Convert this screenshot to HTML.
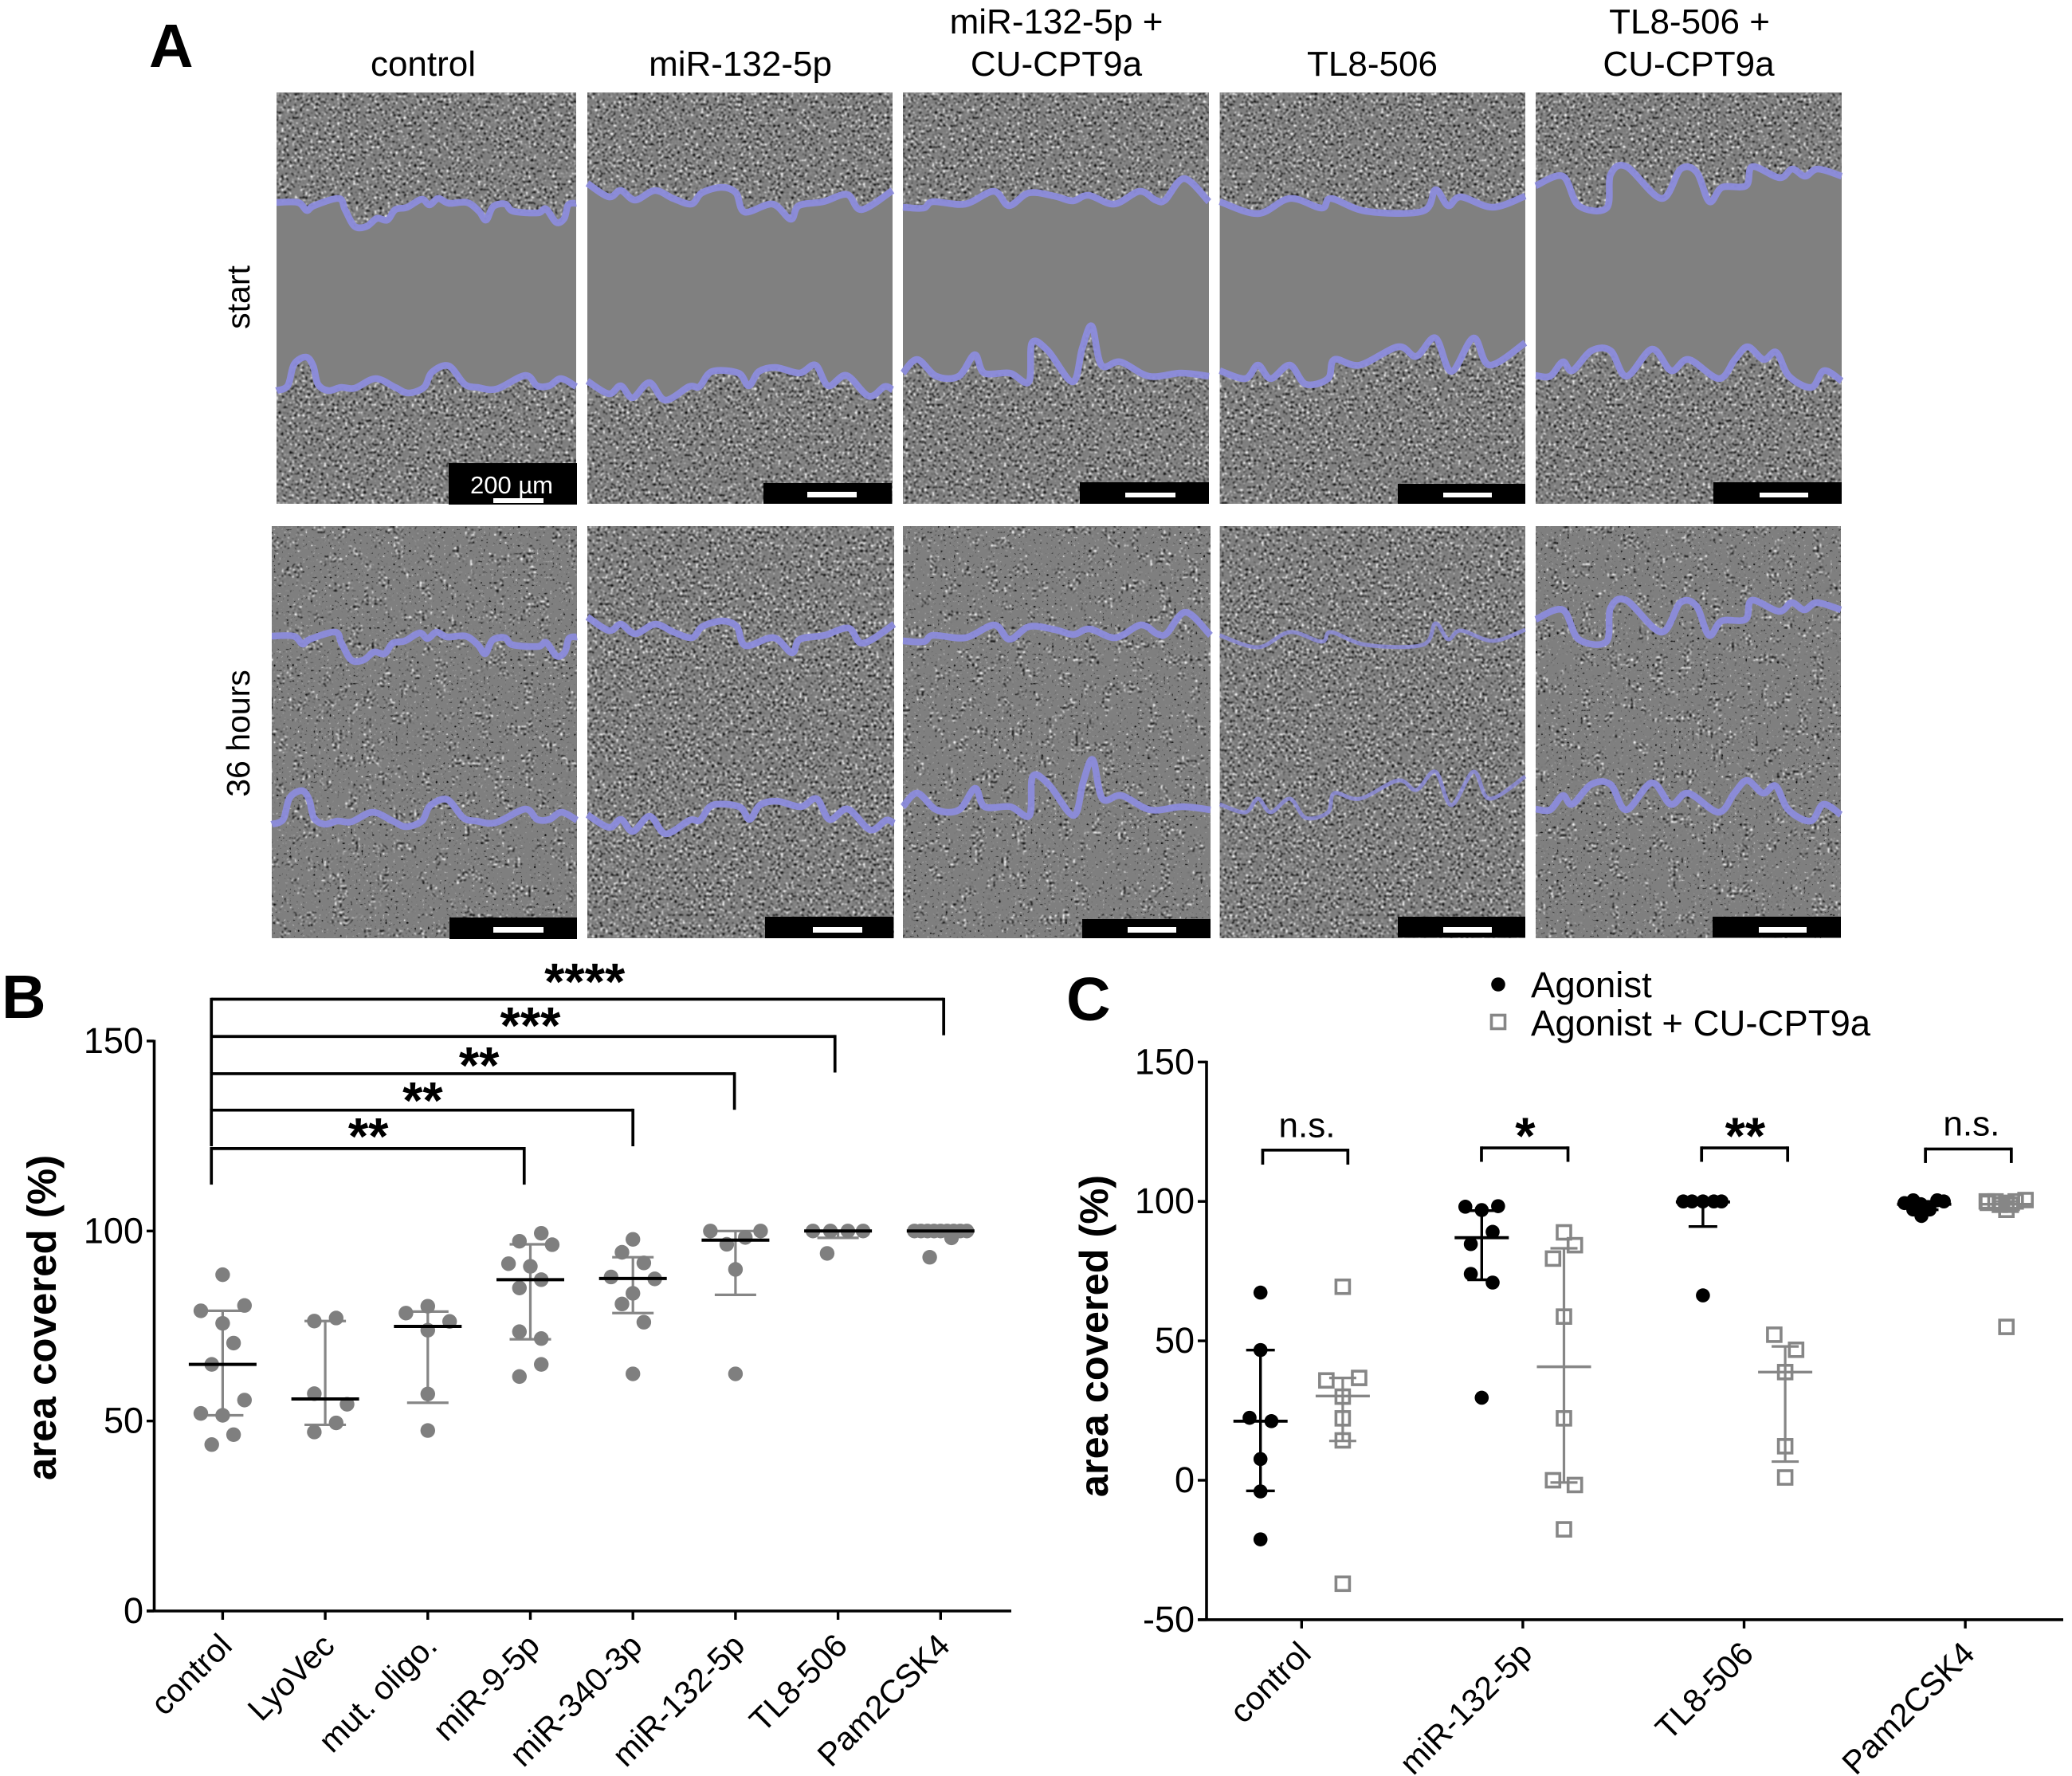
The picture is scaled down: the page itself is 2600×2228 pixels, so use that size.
<!DOCTYPE html>
<html lang="en">
<head>
<meta charset="utf-8">
<title>Wound healing assay figure</title>
<style>
html,body{margin:0;padding:0;background:#fff;}
svg{display:block;}
text{font-family:"Liberation Sans",sans-serif;fill:#000;}
</style>
</head>
<body>
<svg id="figure" xmlns="http://www.w3.org/2000/svg" width="2600" height="2228" viewBox="0 0 2600 2228">
  <defs>
    <filter id="dense" x="0" y="0" width="1" height="1" color-interpolation-filters="sRGB">
      <feTurbulence type="fractalNoise" baseFrequency="0.3" numOctaves="1" seed="7" result="n"/>
      <feColorMatrix in="n" type="matrix" values="1 0 0 0 0 1 0 0 0 0 1 0 0 0 0 0 0 0 0 1" result="g"/>
      <feComponentTransfer in="g" result="t0">
        <feFuncR type="table" tableValues="0 0 0 0 0.05 0.2 0.45 0.5 0.5 0.54 0.75 1 1 1 1 1"/>
        <feFuncG type="table" tableValues="0 0 0 0 0.05 0.2 0.45 0.5 0.5 0.54 0.75 1 1 1 1 1"/>
        <feFuncB type="table" tableValues="0 0 0 0 0.05 0.2 0.45 0.5 0.5 0.54 0.75 1 1 1 1 1"/>
      </feComponentTransfer>
      <feGaussianBlur in="t0" stdDeviation="0.7" result="t"/>
      <feComposite in="t" in2="SourceGraphic" operator="in"/>
    </filter>
    <filter id="sparse" x="0" y="0" width="1" height="1" color-interpolation-filters="sRGB">
      <feTurbulence type="fractalNoise" baseFrequency="0.3" numOctaves="1" seed="11" result="n"/>
      <feColorMatrix in="n" type="matrix" values="1 0 0 0 0 1 0 0 0 0 1 0 0 0 0 0 0 0 0 1" result="g"/>
      <feComponentTransfer in="g" result="t0">
        <feFuncR type="table" tableValues="0 0 0 0 0.05 0.2 0.45 0.5 0.5 0.54 0.75 1 1 1 1 1"/>
        <feFuncG type="table" tableValues="0 0 0 0 0.05 0.2 0.45 0.5 0.5 0.54 0.75 1 1 1 1 1"/>
        <feFuncB type="table" tableValues="0 0 0 0 0.05 0.2 0.45 0.5 0.5 0.54 0.75 1 1 1 1 1"/>
      </feComponentTransfer>
      <feGaussianBlur in="t0" stdDeviation="0.7" result="t"/>
      <feComponentTransfer in="g" result="t2">
        <feFuncR type="table" tableValues="0 0 0 0.05 0.22 0.5 0.5 0.5 0.5 0.5 0.5 0.62 0.8 1 1 1"/>
        <feFuncG type="table" tableValues="0 0 0 0.05 0.22 0.5 0.5 0.5 0.5 0.5 0.5 0.62 0.8 1 1 1"/>
        <feFuncB type="table" tableValues="0 0 0 0.05 0.22 0.5 0.5 0.5 0.5 0.5 0.5 0.62 0.8 1 1 1"/>
      </feComponentTransfer>
      <feTurbulence type="fractalNoise" baseFrequency="0.055" numOctaves="1" seed="4" result="lf"/>
      <feColorMatrix in="lf" type="matrix" values="0 0 0 0 0 0 0 0 0 0 0 0 0 0 0 1 0 0 0 0" result="la"/>
      <feComponentTransfer in="la" result="mask">
        <feFuncA type="table" tableValues="0 0 0 0 0 0 0 0 0 1 1 1 1 1 1 1"/>
      </feComponentTransfer>
      <feComposite in="t" in2="mask" operator="in" result="blobs"/>
      <feMerge result="merged">
        <feMergeNode in="t2"/>
        <feMergeNode in="blobs"/>
      </feMerge>
      <feComposite in="merged" in2="SourceGraphic" operator="in"/>
    </filter>
  </defs>
  <g id="panel-a"></g>
  <g id="panel-b"></g>
  <g id="panel-c"></g>
</svg>
<script>
/* ---------- Panel B data ---------- */
const bCategories = ['control','LyoVec','mut. oligo.','miR-9-5p','miR-340-3p','miR-132-5p','TL8-506','Pam2CSK4'];
const bYTicks = [0,50,100,150];
const bControl = [88.5,79,80.4,75.7,70.5,64.9,55.5,52,51.5,46.4,43.8];
const bControlSwarm = [0,-2,2,0,1,-1,2,-2,0,1,-1];
const bLyoVec = [77.1,76.3,57.2,54.4,49.5,47.1];
const bLyoVecSwarm = [1,-1,-1,2,1,-1];
const bMutOligo = [78.4,80.2,76.2,73.9,57.1,47.5];
const bMutOligoSwarm = [-2,0,2,0,0,0];
const bMir9 = [99.4,97.3,96.4,91.4,90.7,87.2,85,73.5,71.7,64.9,61.7];
const bMir9Swarm = [1,-1,2,-2,0,1,-1,-1,1,1,-1];
const bMir340 = [97.8,94.4,91.6,87.9,87.4,83.6,80.8,76,62.4];
const bMir340Swarm = [0,-1,1,-2,2,0,-1,1,0];
const bMir132 = [100,100,98.3,96.5,89.9,62.4];
const bMir132Swarm = [-2.3,2.3,0.9,-0.8,0,0];
const bTL8 = [100,100,100,100,94.1];
const bTL8Swarm = [-2.3,-0.7,0.9,2.3,-1];
const bPam = [100,100,100,100,100,100,100,100,100,98.2,93.1];
const bPamSwarm = [-2.4,-1.8,-1.2,-0.6,0,0.6,1.2,1.8,2.4,1,-1];
const bMedians = [64.9,55.8,74.9,87.2,87.5,97.6,100,100];
const bUpper = [79,76.3,78.8,96.5,93.1,100,100,100];
const bLower = [51.5,49,54.8,71.5,78.4,83.2,98.2,99];
const bBracketEnds = [2.94,4,4.99,5.97,7.03];
const bBracketLevels = [121.7,131.8,141.4,151.2,161];
const bBracketDrops = [9.5,9.5,9.5,9.5,9.5];
const bStarLabels = ['**','**','**','***','****'];
const bStarCats = [1.42,1.95,2.5,3,3.53];
const bStarLevels = [126.7,136.1,145.4,155.9,167.4];

/* ---------- Panel C data ---------- */
const cCategories = ['control','miR-132-5p','TL8-506','Pam2CSK4'];
const cYTicks = [-50,0,50,100,150];
const cControlA = [67.3,46.7,22.4,21.2,7.6,-4,-21.2];
const cControlASwarm = [0,0,-1,1,0,0,0];
const cControlB = [69.4,36.7,35.8,30,22.2,14.3,-37.1];
const cControlBSwarm = [0,1.5,-1.5,0,0,0,0];
const cMirA = [98.1,98.3,96.9,89.1,84.7,74,70.9,29.6];
const cMirASwarm = [-1.5,1.5,0,1,-1,-1,1,0];
const cMirB = [88.9,84.3,79.5,58.7,22.2,0,-1.7,-17.6];
const cMirBSwarm = [0,1,-1,0,0,-1,1,0];
const cTLA = [100,100,100,100,100,66.3];
const cTLASwarm = [-1.8,-1,0,1,1.7,0];
const cTLB = [52.2,46.8,38.8,12.2,1];
const cTLBSwarm = [-1,1,0,0,0];
const cPamA = [99.4,100.4,99,97.1,97.1,94.8,100.4,100];
const cPamASwarm = [-1.8,-1,-0.3,-1,0.5,-0.25,1.2,1.8];
const cPamB = [100,100,99.5,97,100,100.5,99.5,98.8,98.8,55];
const cPamBSwarm = [-1.8,-1,0,0,0.85,1.75,-1.7,-0.6,0.4,0];
const cAMedians = [21.2,87,99.8,99];
const cAUpper = [46.7,96.7,100,100];
const cALower = [-3.8,71.9,91,97];
const cBMedians = [30.2,40.7,38.8,99];
const cBUpper = [36.7,83.2,48,100];
const cBLower = [14.1,-0.8,6.7,97];
const cBracketLeft = [-0.176,0.813,1.808,2.82];
const cBracketRight = [0.209,1.204,2.197,3.208];
const cBracketLevels = [118.4,119.2,119.2,118.8];
const cBracketDrop = [5.2,5,5,5];
const cBracketLabels = ['n.s.','*','**','n.s.'];
const cLabelCats = [0.024,1.011,2.005,3.028];
const cLabelLevels = [123,126,126,123.7];

/* ---------- helpers ---------- */
const NS = 'http://www.w3.org/2000/svg';
function make(tag, attrs, parent) {
  const e = document.createElementNS(NS, tag);
  for (const k in attrs) e.setAttribute(k, attrs[k]);
  parent.appendChild(e);
  return e;
}
function drawLine(parent, x1, y1, x2, y2, color, width, name) {
  const e = make('line', {x1: x1, y1: y1, x2: x2, y2: y2, stroke: color, 'stroke-width': width}, parent);
  
  
  return e;
}
function drawText(parent, x, y, str, size, anchor, weight, name, rot) {
  const a = {x: x, y: y, 'font-size': size, 'text-anchor': anchor, 'font-weight': weight};
  if (rot) a.transform = 'rotate(' + rot + ' ' + x + ' ' + y + ')';
  const e = make('text', a, parent);
  e.textContent = str;
  
  
  return e;
}
function drawDot(parent, x, y, r, color, name) {
  const e = make('circle', {cx: x, cy: y, r: r, fill: color}, parent);
  
  
  return e;
}
function drawSquare(parent, x, y, s, color, name) {
  const e = make('rect', {x: x - s / 2, y: y - s / 2, width: s, height: s, fill: 'none', stroke: color, 'stroke-width': 3.6}, parent);
  
  
  return e;
}
const SLOT = 13.7;
const GREY = '#7f7f7f';
const WHISK = '#868686';

/* ---------- Panel B ---------- */
const gB = document.getElementById('panel-b');
function xB(i) { return 279.4 + 128.7 * i; }
function yB(v) { return 2021 - 4.767 * v; }
drawText(gB, 2, 1277, 'B', 77, 'start', 'bold', 'panel-b-label');
drawLine(gB, 193.5, yB(150) - 1.5, 193.5, yB(0) + 1.5, '#000', 3.6, 'y-axis');
drawLine(gB, 184, yB(0), 1269, yB(0), '#000', 3.6, 'x-axis');
bYTicks.forEach(function (t) {
  drawLine(gB, 184, yB(t), 193, yB(t), '#000', 3.4, 'y-tick');
  drawText(gB, 180, yB(t) + 15, String(t), 45, 'end', 'normal', 'y-tick-label');
});
bCategories.forEach(function (c, i) {
  drawLine(gB, xB(i), yB(0), xB(i), yB(0) + 11, '#000', 3.4, 'x-tick');
  drawText(gB, xB(i) + 14, 2067, c, 41, 'end', 'normal', 'x-tick-label', -45);
});
drawText(gB, 70, 1653, 'area covered (%)', 51, 'middle', 'bold', 'y-axis-title', -90);
const bSeries = [bControl, bLyoVec, bMutOligo, bMir9, bMir340, bMir132, bTL8, bPam];
const bSwarms = [bControlSwarm, bLyoVecSwarm, bMutOligoSwarm, bMir9Swarm, bMir340Swarm, bMir132Swarm, bTL8Swarm, bPamSwarm];
bSeries.forEach(function (vals, i) {
  const cx = xB(i);
  drawLine(gB, cx, yB(bUpper[i]), cx, yB(bLower[i]), WHISK, 3.2, 'error-bar');
  drawLine(gB, cx - 26, yB(bUpper[i]), cx + 26, yB(bUpper[i]), WHISK, 3.2, 'error-cap-upper');
  drawLine(gB, cx - 26, yB(bLower[i]), cx + 26, yB(bLower[i]), WHISK, 3.2, 'error-cap-lower');
  vals.forEach(function (v, j) {
    drawDot(gB, cx + bSwarms[i][j] * SLOT, yB(v), 9.2, GREY, 'data-point');
  });
  drawLine(gB, cx - 42.5, yB(bMedians[i]), cx + 42.5, yB(bMedians[i]), '#000', 4, 'median-line');
});
const bLeft = xB(-0.11);
bBracketEnds.forEach(function (end, i) {
  const lvl = yB(bBracketLevels[i]);
  const bottom = yB(bBracketLevels[i] - bBracketDrops[i]);
  drawLine(gB, bLeft, lvl, xB(end), lvl, '#000', 3.7, 'significance-bracket');
  drawLine(gB, bLeft, lvl - 1.8, bLeft, bottom, '#000', 3.7, 'significance-bracket-left');
  drawLine(gB, xB(end), lvl - 1.8, xB(end), bottom, '#000', 3.7, 'significance-bracket-right');
  drawText(gB, xB(bStarCats[i]), yB(bStarLevels[i]) + 31, bStarLabels[i], 65, 'middle', 'bold', 'significance-stars');
});

/* ---------- Panel C ---------- */
const gC = document.getElementById('panel-c');
function xC(i) { return 1633.3 + 277.6 * i; }
function yC(v) { return 1857 - 3.498 * v; }
const SUB = 51.6;
drawText(gC, 1338, 1280, 'C', 77, 'start', 'bold', 'panel-c-label');
drawLine(gC, 1514, yC(150) - 1.5, 1514, yC(-50) + 1.5, '#000', 3.6, 'y-axis');
drawLine(gC, 1503, yC(-50), 2589, yC(-50), '#000', 3.6, 'x-axis');
cYTicks.forEach(function (t) {
  drawLine(gC, 1503, yC(t), 1514, yC(t), '#000', 3.4, 'y-tick');
  drawText(gC, 1499, yC(t) + 15, String(t), 45, 'end', 'normal', 'y-tick-label');
});
cCategories.forEach(function (c, i) {
  drawLine(gC, xC(i), yC(-50), xC(i), yC(-50) + 11, '#000', 3.4, 'x-tick');
  drawText(gC, xC(i) + 14, 2077, c, 41, 'end', 'normal', 'x-tick-label', -45);
});
drawText(gC, 1390, 1676, 'area covered (%)', 50.5, 'middle', 'bold', 'y-axis-title', -90);
const cASeries = [cControlA, cMirA, cTLA, cPamA];
const cASwarms = [cControlASwarm, cMirASwarm, cTLASwarm, cPamASwarm];
const cBSeries = [cControlB, cMirB, cTLB, cPamB];
const cBSwarms = [cControlBSwarm, cMirBSwarm, cTLBSwarm, cPamBSwarm];
cASeries.forEach(function (vals, i) {
  const cx = xC(i) - SUB;
  drawLine(gC, cx, yC(cAUpper[i]), cx, yC(cALower[i]), '#000', 3.4, 'agonist-error-bar');
  drawLine(gC, cx - 18, yC(cAUpper[i]), cx + 18, yC(cAUpper[i]), '#000', 3.4, 'agonist-cap-upper');
  drawLine(gC, cx - 18, yC(cALower[i]), cx + 18, yC(cALower[i]), '#000', 3.4, 'agonist-cap-lower');
  vals.forEach(function (v, j) {
    drawDot(gC, cx + cASwarms[i][j] * SLOT, yC(v), 8.8, '#000', 'agonist-point');
  });
  drawLine(gC, cx - 34, yC(cAMedians[i]), cx + 34, yC(cAMedians[i]), '#000', 3.8, 'agonist-median');
});
cBSeries.forEach(function (vals, i) {
  const cx = xC(i) + SUB;
  drawLine(gC, cx, yC(cBUpper[i]), cx, yC(cBLower[i]), WHISK, 3.2, 'combo-error-bar');
  drawLine(gC, cx - 17, yC(cBUpper[i]), cx + 17, yC(cBUpper[i]), WHISK, 3.2, 'combo-cap-upper');
  drawLine(gC, cx - 17, yC(cBLower[i]), cx + 17, yC(cBLower[i]), WHISK, 3.2, 'combo-cap-lower');
  vals.forEach(function (v, j) {
    drawSquare(gC, cx + cBSwarms[i][j] * SLOT, yC(v), 17, WHISK, 'combo-point');
  });
  drawLine(gC, cx - 34, yC(cBMedians[i]), cx + 34, yC(cBMedians[i]), WHISK, 3.4, 'combo-median');
});
cBracketLabels.forEach(function (lab, i) {
  const l = yC(cBracketLevels[i]);
  const b = yC(cBracketLevels[i] - cBracketDrop[i]);
  drawLine(gC, xC(cBracketLeft[i]), l, xC(cBracketRight[i]), l, '#000', 3.7, 'comparison-bracket');
  drawLine(gC, xC(cBracketLeft[i]), l - 1.8, xC(cBracketLeft[i]), b, '#000', 3.7, 'comparison-bracket-left');
  drawLine(gC, xC(cBracketRight[i]), l - 1.8, xC(cBracketRight[i]), b, '#000', 3.7, 'comparison-bracket-right');
  if (lab === 'n.s.') {
    drawText(gC, xC(cLabelCats[i]), yC(cLabelLevels[i]) + 0, lab, 44, 'middle', 'normal', 'comparison-label');
  } else {
    drawText(gC, xC(cLabelCats[i]), yC(cLabelLevels[i]) + 31, lab, 65, 'middle', 'bold', 'comparison-label');
  }
});
drawDot(gC, 1880, 1235, 8.8, '#000', 'legend-marker-agonist');
drawText(gC, 1921, 1251, 'Agonist', 45.5, 'start', 'normal', 'legend-label-agonist');
drawSquare(gC, 1880, 1282, 17, WHISK, 'legend-marker-combo');
drawText(gC, 1921, 1299, 'Agonist + CU-CPT9a', 45.5, 'start', 'normal', 'legend-label-combo');

/* ---------- Panel A ---------- */
const gA = document.getElementById('panel-a');
drawText(gA, 187, 84, 'A', 77, 'start', 'bold', 'panel-a-label');
drawText(gA, 531, 95, 'control', 44, 'middle', 'normal', 'column-title-control');
drawText(gA, 929, 95, 'miR-132-5p', 44, 'middle', 'normal', 'column-title-mir132');
drawText(gA, 1325.5, 42, 'miR-132-5p +', 44, 'middle', 'normal', 'column-title-mir132-combo-line1');
drawText(gA, 1325.5, 95, 'CU-CPT9a', 44, 'middle', 'normal', 'column-title-mir132-combo-line2');
drawText(gA, 1722, 95, 'TL8-506', 44, 'middle', 'normal', 'column-title-tl8');
drawText(gA, 2120, 42, 'TL8-506 +', 44, 'middle', 'normal', 'column-title-tl8-combo-line1');
drawText(gA, 2119, 95, 'CU-CPT9a', 44, 'middle', 'normal', 'column-title-tl8-combo-line2');
drawText(gA, 313, 373, 'start', 41, 'middle', 'normal', 'row-label-start', -90);
drawText(gA, 313, 920, '36 hours', 41, 'middle', 'normal', 'row-label-36-hours', -90);

const edges = [
  { top: [[0,254],[27,254],[38,264],[47,258],[78,249],[86,263],[98,284],[113,284],[126,274],[139,276],[149,263],[164,260],[182,250],[192,257],[203,249],[216,255],[239,254],[254,265],[263,276],[272,259],[287,256],[297,265],[328,267],[338,262],[351,279],[361,274],[366,257],[376,255]],
    bottom: [[0,490],[14,484],[22,457],[37,448],[46,459],[52,482],[65,490],[81,486],[98,487],[124,475],[149,486],[165,493],[185,486],[195,467],[216,459],[236,482],[252,486],[276,488],[312,471],[327,484],[342,484],[357,475],[376,485]], w: 376 },
  { top: [[0,230],[27,247],[42,239],[60,251],[85,239],[108,249],[131,256],[144,242],[169,235],[187,242],[198,266],[233,256],[256,275],[266,258],[297,253],[327,244],[345,263],[384,239]],
    bottom: [[0,478],[27,494],[42,484],[57,499],[78,480],[98,502],[128,485],[141,485],[157,466],[190,468],[203,484],[216,466],[237,461],[267,468],[287,458],[303,484],[326,471],[354,497],[374,485],[384,489]], w: 384 },
  { top: [[0,260],[26,261],[38,253],[78,256],[114,240],[133,258],[158,242],[190,246],[213,252],[233,245],[265,256],[297,240],[317,251],[329,251],[353,224],[384,253]],
    bottom: [[0,468],[18,451],[42,472],[70,472],[90,445],[102,468],[134,468],[158,479],[162,430],[182,440],[213,479],[225,437],[237,409],[249,458],[273,454],[309,472],[349,468],[384,472]], w: 384 },
  { top: [[0,253],[48,268],[88,249],[128,261],[140,249],[184,265],[255,265],[271,238],[287,258],[303,247],[343,260],[384,246]],
    bottom: [[0,465],[32,475],[48,458],[64,475],[88,458],[108,482],[136,475],[144,451],[176,458],[224,435],[247,447],[271,424],[291,466],[319,424],[339,458],[384,430]], w: 384 },
  { top: [[0,233],[34,221],[54,258],[89,261],[94,219],[114,209],[158,249],[182,212],[202,216],[218,253],[234,235],[264,233],[272,209],[306,223],[322,212],[338,221],[354,212],[384,221]],
    bottom: [[0,471],[18,472],[34,454],[46,465],[70,440],[94,440],[114,472],[146,438],[170,465],[192,451],[230,475],[250,451],[266,435],[286,451],[302,442],[318,472],[346,486],[362,465],[384,478]], w: 384 }
];
const rows = [
  { y: 116, h: 516, dy: 0, lefts: [347,737,1133,1530.6,1927], rights: [723,1120,1517,1914,2311],
    boxes: [[563,581,724,633],[958,606,1119,632],[1355,605,1517,632],[1754,607,1914,632],[2150,605,2311,632]],
    bars: [[619,625,682,631],[1013,617,1075,624],[1412,618,1475,624],[1811,618,1872,624],[2208,618,2269,624]] },
  { y: 660, h: 517, dy: 544, lefts: [341,737,1133,1530.6,1927], rights: [724,1122,1519,1914,2310],
    boxes: [[564,1151,724,1178],[960,1150,1121,1177],[1358,1153,1519,1177],[1754,1150,1914,1176],[2149,1150,2310,1176]],
    bars: [[619,1163,682,1170],[1020,1163,1082,1170],[1415,1163,1476,1170],[1811,1163,1872,1170],[2207,1163,2267,1170]] }
];
function smooth(pts) {
  let d = 'M' + pts[0][0] + ' ' + pts[0][1];
  for (let i = 0; i < pts.length - 1; i++) {
    const p0 = pts[Math.max(i - 1, 0)], p1 = pts[i], p2 = pts[i + 1], p3 = pts[Math.min(i + 2, pts.length - 1)];
    const c1x = p1[0] + (p2[0] - p0[0]) / 6, c1y = p1[1] + (p2[1] - p0[1]) / 6;
    const c2x = p2[0] - (p3[0] - p1[0]) / 6, c2y = p2[1] - (p3[1] - p1[1]) / 6;
    d += 'C' + c1x.toFixed(1) + ' ' + c1y.toFixed(1) + ' ' + c2x.toFixed(1) + ' ' + c2y.toFixed(1) + ' ' + p2[0].toFixed(1) + ' ' + p2[1].toFixed(1);
  }
  return d;
}
rows.forEach(function (row, r) {
  row.lefts.forEach(function (left, p) {
    const right = row.rights[p];
    const w = right - left;
    const sx = w / edges[p].w;
    const group = make('g', {}, gA);
    
    
    const bg = make('rect', {x: left, y: row.y, width: w, height: row.h, fill: '#808080'}, group);
    
    
    const topPts = edges[p].top.map(function (q) { return [left + q[0] * sx, q[1] + row.dy]; });
    const botPts = edges[p].bottom.map(function (q) { return [left + q[0] * sx, q[1] + row.dy]; });
    if (r === 0) {
      const up = make('path', {d: smooth(topPts) + 'L' + right + ' ' + row.y + 'L' + left + ' ' + row.y + 'Z', fill: '#fff', filter: 'url(#dense)'}, group);
      
      
      const down = make('path', {d: smooth(botPts) + 'L' + right + ' ' + (row.y + row.h) + 'L' + left + ' ' + (row.y + row.h) + 'Z', fill: '#fff', filter: 'url(#dense)'}, group);
      
      
    } else {
      const all = make('rect', {x: left, y: row.y, width: w, height: row.h, fill: '#fff', filter: (p === 3 || p === 1) ? 'url(#dense)' : 'url(#sparse)'}, group);
      
      
    }
    [topPts, botPts].forEach(function (pts) {
      const c = make('path', {d: smooth(pts), fill: 'none', stroke: '#8c8cdc', 'stroke-width': (r === 1 && p === 3) ? 5 : 8.5, 'stroke-opacity': (r === 1 && p === 3) ? 0.8 : 0.95, 'stroke-linejoin': 'round', 'stroke-linecap': 'butt'}, group);
      
      
    });
    const b = row.boxes[p];
    const box = make('rect', {x: b[0], y: b[1], width: b[2] - b[0], height: b[3] - b[1], fill: '#000'}, group);
    
    
    const s = row.bars[p];
    const bar = make('rect', {x: s[0], y: s[1], width: s[2] - s[0], height: s[3] - s[1], fill: '#fff'}, group);
    
    
  });
});
const scaleLabel = drawText(gA, 642, 619, '200 µm', 31, 'middle', 'normal', 'scale-bar-label');
scaleLabel.style.fill = '#fff';
</script>
</body>
</html>
